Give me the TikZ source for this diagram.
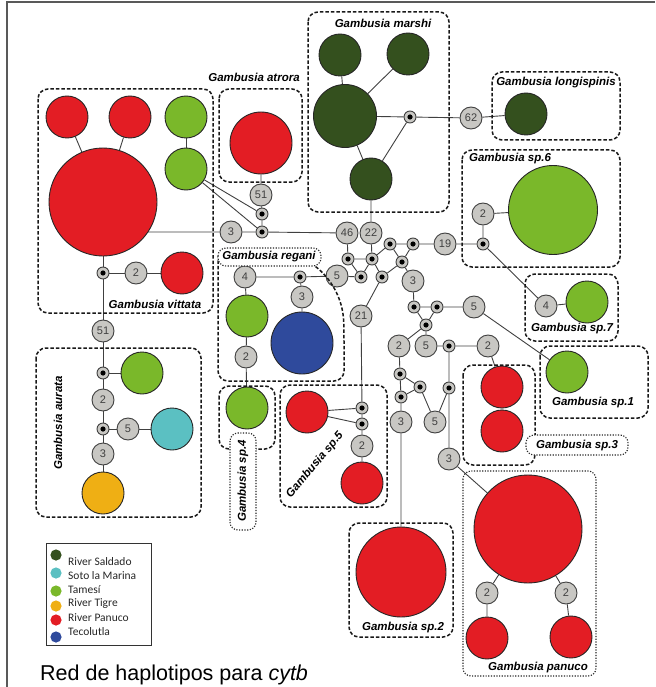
\documentclass[tikz,border=0pt]{standalone}
\usepackage{fontspec}
\setmainfont{Liberation Sans}
\newfontfamily\legfont{Carlito}
\usetikzlibrary{positioning, backgrounds}
\definecolor{rsaldado}{RGB}{52,80,30}
\definecolor{rsoto}{RGB}{91,192,194}
\definecolor{rtamesi}{RGB}{122,184,42}
\definecolor{rtigre}{RGB}{239,175,20}
\definecolor{rpanuco}{RGB}{227,29,36}
\definecolor{rtecol}{RGB}{47,74,156}
\definecolor{mgray}{RGB}{200,199,195}
\definecolor{lgray}{RGB}{64,64,64}

\begin{document}
\begin{tikzpicture}[x=1pt, y=-1pt,
  hap/.style={circle, draw=black!85, line width=0.9pt, fill=#1, inner sep=0pt, minimum size=42pt},
  mut/.style={circle, draw=black!75, line width=0.9pt, fill=mgray, inner sep=0pt, minimum size=22pt,
    font=\fontsize{11}{11}\selectfont, text=black!75},
  med/.style={circle, draw=black!75, line width=0.9pt, fill=mgray, inner sep=0pt, minimum size=12pt,
    path picture={\fill[black] (path picture bounding box.center) circle (2.6pt);}},
  grp/.style={draw=black!90, line width=1.5pt, dash pattern=on 3.5pt off 2pt, rounded corners=10pt},
  grpdot/.style={draw=black!85, line width=1.1pt, dash pattern=on 1.2pt off 1.5pt, rounded corners=8pt},
  lbl/.style={font=\fontsize{11.5}{12}\selectfont\bfseries\itshape, inner sep=0pt},
  link/.style={draw=lgray, line width=0.9pt}]
  \useasboundingbox (0,0) rectangle (655,687);
  % marco
  \draw[black!65, line width=1.4pt] (7,687) -- (7,2) -- (655,2);

  % G. vittata
  \node[hap=rpanuco, minimum size=108pt] (vitA) at (103,202) {};
  \node[hap=rpanuco] (vitB) at (67,117) {};
  \node[hap=rpanuco] (vitC) at (130,117) {};
  \node[hap=rtamesi] (vitD) at (186,117) {};
  \node[hap=rtamesi] (vitE) at (186,169) {};
  \node[hap=rpanuco] (vitF) at (182,273) {};
  \node[med] (v1) at (103,273) {};
  \node[mut] (m2a) at (136,273) {2};
  \node[mut] (m3a) at (231,232) {3};
  \node[med] (v2) at (262,214) {};
  \node[med] (v3) at (262,232) {};
  % G. atrora
  \node[hap=rpanuco, minimum size=62pt] (atr) at (261,143) {};
  \node[mut] (m51a) at (261,195) {51};
  % G. marshi y longispinis
  \node[hap=rsaldado, minimum size=63pt] (marA) at (345,116) {};
  \node[hap=rsaldado] (marB) at (340,55) {};
  \node[hap=rsaldado] (marC) at (408,54) {};
  \node[hap=rsaldado] (marD) at (371,179) {};
  \node[med] (v4) at (410,117) {};
  \node[mut] (m62) at (471,118) {62};
  \node[hap=rsaldado] (lon) at (526,114) {};
  % sp.6 y sp.7
  \node[hap=rtamesi, minimum size=89pt] (sp6) at (553,210) {};
  \node[mut] (m2b) at (483,214) {2};
  \node[med] (v5) at (483,244) {};
  \node[mut] (m19) at (445,244) {19};
  \node[mut] (m4a) at (546,306) {4};
  \node[hap=rtamesi] (sp7) at (587,302) {};
  % red central
  \node[mut] (m46) at (347,233) {46};
  \node[mut] (m22) at (371,233) {22};
  \node[med] (c1) at (348,259) {};
  \node[med] (c2) at (372,259) {};
  \node[med] (c3) at (390,244) {};
  \node[med] (c4) at (413,244) {};
  \node[med] (c5) at (402,262) {};
  \node[med] (c6) at (361,277) {};
  \node[med] (c7) at (382,277) {};
  \node[mut] (m5a) at (337,276) {5};
  \node[mut] (m3b) at (413,281) {3};
  \node[mut] (m21) at (361,316) {21};
  \node[med] (c8) at (414,307) {};
  \node[med] (c9) at (437,307) {};
  \node[med] (c10) at (426,325) {};
  \node[mut] (m5b) at (474,307) {5};
  \node[mut] (m2c) at (399,346) {2};
  \node[mut] (m5c) at (426,346) {5};
  \node[med] (c11) at (449,346) {};
  \node[mut] (m2d) at (488,346) {2};
  \node[med] (c12) at (400,374) {};
  \node[med] (c13) at (420,387) {};
  \node[med] (c14) at (401,397) {};
  \node[med] (c15) at (449,388) {};
  \node[mut] (m3c) at (401,422) {3};
  \node[mut] (m5d) at (435,422) {5};
  \node[mut] (m3d) at (449,459) {3};
  % sp.1, sp.3, sp.2, panuco
  \node[hap=rtamesi] (sp1) at (567,372) {};
  \node[hap=rpanuco] (sp3a) at (502,387) {};
  \node[hap=rpanuco] (sp3b) at (502,431) {};
  \node[hap=rpanuco, minimum size=90pt] (sp2) at (401,572) {};
  \node[hap=rpanuco, minimum size=108pt] (panA) at (528,529) {};
  \node[mut] (m2e) at (487,593) {2};
  \node[mut] (m2f) at (566,593) {2};
  \node[hap=rpanuco] (panB) at (487,638) {};
  \node[hap=rpanuco] (panC) at (571,637) {};
  % sp.5
  \node[hap=rpanuco] (sp5a) at (307,412) {};
  \node[med] (c16) at (362,408) {};
  \node[med] (c17) at (362,424) {};
  \node[mut] (m2g) at (362,446) {2};
  \node[hap=rpanuco] (sp5b) at (362,483) {};
  % G. regani y sp.4
  \node[mut] (m4b) at (245,277) {4};
  \node[med] (c18) at (300,277) {};
  \node[mut] (m3e) at (302,297) {3};
  \node[hap=rtamesi] (regG) at (247,316) {};
  \node[hap=rtecol, minimum size=62pt] (regB) at (302,343) {};
  \node[mut] (m2h) at (246,357) {2};
  \node[hap=rtamesi] (sp4) at (247,408) {};
  % G. aurata
  \node[mut] (m51b) at (103,331) {51};
  \node[med] (c19) at (103,373) {};
  \node[hap=rtamesi] (aurG) at (142,373) {};
  \node[mut] (m2i) at (103,400) {2};
  \node[med] (c20) at (103,429) {};
  \node[mut] (m5e) at (128,429) {5};
  \node[hap=rsoto] (aurC) at (172,429) {};
  \node[mut] (m3f) at (103,454) {3};
  \node[hap=rtigre] (aurO) at (103,493) {};

  % conexiones
  \begin{scope}[on background layer]
    \draw[link] (vitA) -- (vitB);
    \draw[link] (vitA) -- (vitC);
    \draw[link] (vitD) -- (vitE);
    \draw[link] (vitE) -- (v2);
    \draw[link] (vitE) -- (v3);
    \draw[link] (vitA.center) -- (v1) -- (m2a) -- (vitF);
    \draw[link] (v1) -- (m51b) -- (c19) -- (m2i) -- (c20) -- (m3f) -- (aurO);
    \draw[link] (c19) -- (aurG);
    \draw[link] (c20) -- (m5e) -- (aurC);
    \draw[link] (vitA.center |- m3a) -- (m3a) -- (v3) -- (m46);
    \draw[link] (v3) -- (v2) -- (m51a) -- (atr);
    \draw[link] (marA) -- (marB);
    \draw[link] (marA) -- (marC);
    \draw[link] (marA) -- (v4) -- (m62) -- (lon);
    \draw[link] (marA) -- (marD) -- (v4);
    \draw[link] (marD) -- (m22) -- (c2);
    \draw[link] (m46) -- (c1) -- (c2);
    \draw[link] (c1) -- (c6) -- (c2);
    \draw[link] (m5a) -- (c6);
    \draw[link] (c2) -- (c7) -- (c5);
    \draw[link] (c2) -- (c3) -- (c4) -- (c5) -- (c3);
    \draw[link] (c4) -- (m19) -- (v5) -- (m2b) -- (sp6);
    \draw[link] (v5) -- (m4a) -- (sp7);
    \draw[link] (c5) -- (m3b) -- (c8) -- (c9) -- (m5b) -- (sp1);
    \draw[link] (c8) -- (c10) -- (c9);
    \draw[link] (c7) -- (m21) -- (c16) -- (c17) -- (m2g) -- (sp5b);
    \draw[link] (sp5a) -- (c16);
    \draw[link] (sp5a) -- (c17);
    \draw[link] (c10) -- (m2c) -- (c12) -- (c14) -- (m3c) -- (sp2);
    \draw[link] (c10) -- (m5c) -- (c11) -- (m2d) -- (sp3a) -- (sp3b);
    \draw[link] (c12) -- (c13) -- (c14);
    \draw[link] (c13) -- (m5d) -- (c15) -- (c11);
    \draw[link] (c15) -- (m3d) -- (panA);
    \draw[link] (panA) -- (m2e) -- (panB);
    \draw[link] (panA) -- (m2f) -- (panC);
    \draw[link] (m5a) -- (c18) -- (m4b) -- (regG) -- (m2h) -- (sp4);
    \draw[link] (c18) -- (m3e) -- (regB);
  \end{scope}

  % grupos
  \draw[grp] (38,89) rectangle (213,313);
  \draw[grp] (219,89) rectangle (302,182);
  \draw[grp] (308,12) rectangle (449,212);
  \draw[grp] (492,72) rectangle (620,140);
  \draw[grp] (462,150) rectangle (620,267);
  \draw[grp] (525,274) rectangle (618,341);
  \draw[grp] (540,346) rectangle (648,418);
  \draw[grp] (463,365) rectangle (535,465);
  \draw[grp] (349,523) rectangle (453,637);
  \draw[grp] (280,385) rectangle (387,507);
  \draw[grp] (219,386) rectangle (275,449);
  \draw[grp] (36,348) rectangle (201,517);
  \draw[grp] (300,250) -- (218,250) -- (218,381) -- (344,381) -- (344,332)
    .. controls (343,298) and (330,276) .. (312,264);
  \draw[grpdot, fill=white] (526,435) rectangle (628,455);
  \draw[grpdot] (463,471) rectangle (596,676);
  \draw[grpdot, fill=white] (230,433) rectangle (256,530);
  \draw[grpdot, fill=white] (218,248) rectangle (321,266);

  % etiquetas
  \node[lbl] (tvit) at (155,304) {Gambusia vittata};
  \node[lbl] (tatr) at (254,77) {Gambusia atrora};
  \node[lbl] (tmar) at (383,23) {Gambusia marshi};
  \node[lbl] (tlon) at (556,83) {Gambusia longispinis};
  \node[lbl] (tsp6) at (510,159) {Gambusia sp.6};
  \node[lbl] (tsp7) at (572,329) {Gambusia sp.7};
  \node[lbl] (tsp1) at (593,403) {Gambusia sp.1};
  \node[lbl] (tsp3) at (577,446) {Gambusia sp.3};
  \node[lbl] (tsp2) at (403,628) {Gambusia sp.2};
  \node[lbl] (tpan) at (538,668) {Gambusia panuco};
  \node[lbl, rotate=50] (tsp5) at (315,465) {Gambusia sp.5};
  \node[lbl, rotate=90] (tsp4) at (243,481) {Gambusia sp.4};
  \node[lbl] (treg) at (269,257) {Gambusia regani};
  \node[lbl, rotate=90] (taur) at (58,423) {Gambusia aurata};

  % leyenda
  \node[draw=black!80, line width=0.8pt, minimum width=105pt, minimum height=102pt, inner sep=0pt] (leg) at (98.5,594) {};
  \foreach \col/\yd/\yt/\txt [count=\i] in {rsaldado/555/562/River Saldado, rsoto/573/576/Soto la Marina,
      rtamesi/591/590/Tamesí, rtigre/606/604/River Tigre, rpanuco/620/618/River Panuco, rtecol/637/632/Tecolutla}{
    \fill[\col] (56,\yd) circle (5.6pt);
    \node[anchor=west, inner sep=0pt, font=\legfont\fontsize{11.5}{12}\selectfont, text=black!85] (leg\i) at (68,\yt) {\txt};
  }
  \node[anchor=base west, inner sep=0pt, font=\fontsize{21.5}{24}\selectfont] (title) at (40,680) {Red de haplotipos para \textit{cytb}};
\end{tikzpicture}
\end{document}
